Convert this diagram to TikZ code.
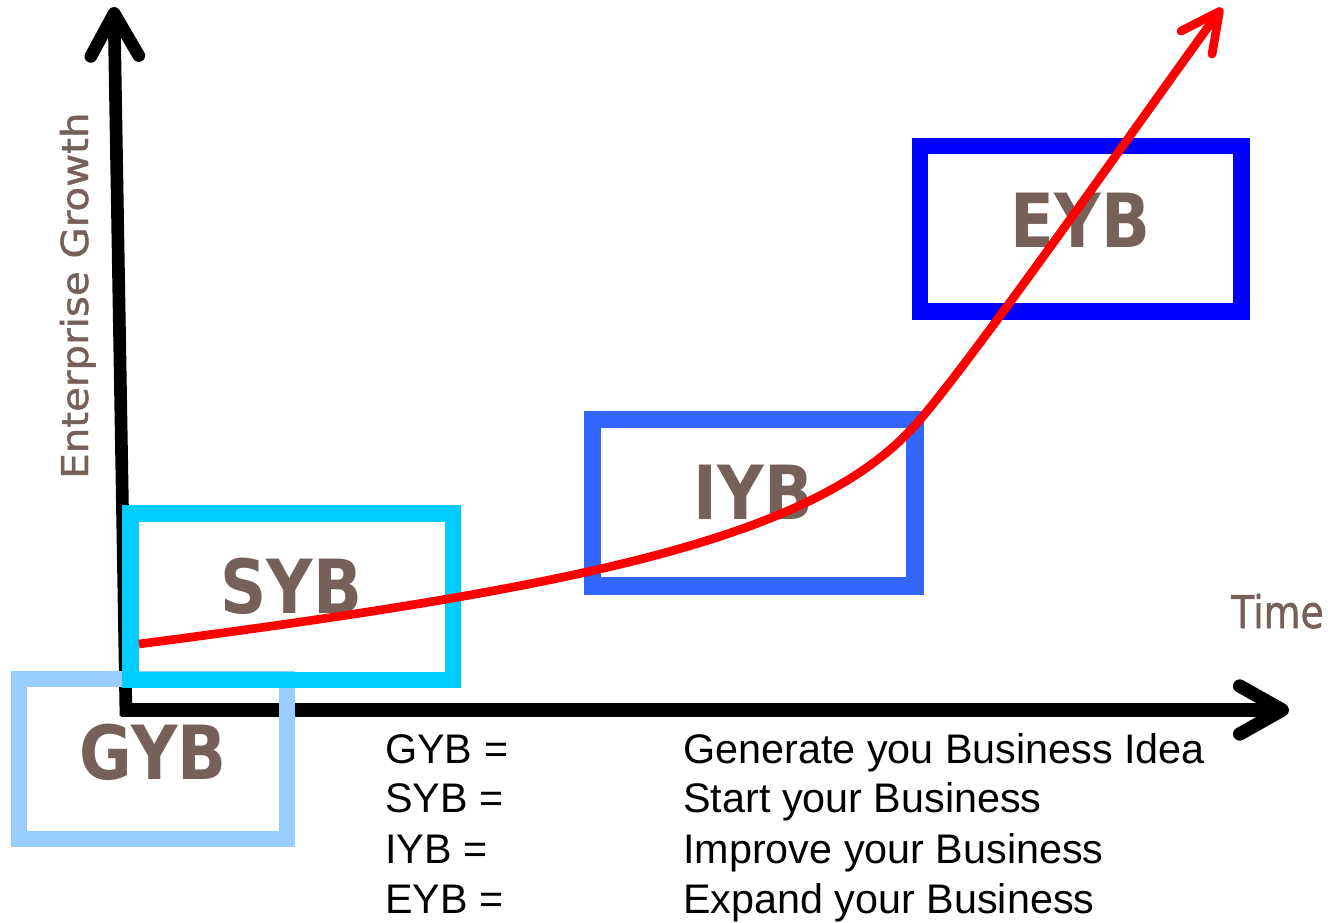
\documentclass[tikz,border=0pt]{standalone}
\usepackage{fontspec}
\usepackage{graphicx}
\setmainfont{Liberation Sans}
\newfontfamily\lblfont{DejaVu Sans}[BoldFont={DejaVu Sans Bold}]
\newfontfamily\axfont{DejaVu Sans}[FakeBold=1.2]
\usetikzlibrary{arrows.meta}
\definecolor{gybc}{HTML}{99CCFF}
\definecolor{sybc}{HTML}{00CCFF}
\definecolor{iybc}{HTML}{3366FF}
\definecolor{eybc}{HTML}{0000FF}
\definecolor{curvec}{HTML}{FF0000}
\definecolor{textbrown}{HTML}{76605A}
\tikzset{
  axisline/.style={line width=9.5pt, black, line cap=butt,
    -{Straight Barb[length=32pt,width=36pt,round]}},
  growth/.style={line width=6.5pt, curvec,
    -{Straight Barb[length=29pt,width=29pt,round]}},
  stagebox/.style={draw, line width=12.5pt, rectangle, inner sep=0pt, fill=none},
  stagelabel/.style={inner sep=0pt, text=textbrown,
    font=\lblfont\bfseries\fontsize{56pt}{60pt}\selectfont},
  axislabel/.style={inner sep=0pt, text=textbrown,
    font=\axfont\fontsize{27.75pt}{30pt}\selectfont},
  legend/.style={inner sep=0pt, anchor=base west, text=black,
    font=\fontsize{31pt}{34pt}\selectfont},
}
\begin{document}
\begin{tikzpicture}[x=0.75pt,y=-0.75pt]
\useasboundingbox (0,0) rectangle (1328,922);
\fill[white] (0,0) rectangle (1328,922);

% axes
\coordinate (origin) at (126,716);
\coordinate (ytop) at (114,7);
\coordinate (xstart) at (121,710);
\coordinate (xend) at (1289,710);
\draw[axisline] (origin) -- (ytop);
\draw[axisline, line width=10pt] (xstart) -- (xend);

% axis labels
\node[axislabel, rotate=90, anchor=base west] (ylab) at (88,479)
  {\scalebox{1.09}[1]{Enterprise Growth}};
\node[axislabel, anchor=base west, font=\axfont\fontsize{33.75pt}{36pt}\selectfont] (xlab) at (1231,628)
  {\scalebox{0.84}[1]{Time}};

% stage boxes
\node[stagebox, draw=gybc, line width=12pt, minimum width=201pt, minimum height=120pt] (gyb) at (153,759) {};
\node[stagebox, draw=sybc, minimum width=242pt, minimum height=125pt] (syb) at (291.5,596.5) {};
\node[stagebox, draw=iybc, line width=13pt, minimum width=242pt, minimum height=125pt] (iyb) at (753.5,502.5) {};
\node[stagebox, draw=eybc, minimum width=241pt, minimum height=124pt] (eyb) at (1080.5,228.5) {};

\node[stagelabel] (gybl) at ([yshift=5pt]gyb.center) {\scalebox{0.86}[1]{GYB}};
\node[stagelabel] (sybl) at ([yshift=8pt]syb.center) {\scalebox{0.86}[1]{SYB}};
\node[stagelabel] (iybl) at ([yshift=8pt]iyb.center) {\scalebox{0.86}[1]{IYB}};
\node[stagelabel] (eybl) at ([yshift=6.5pt]eyb.center) {\scalebox{0.86}[1]{EYB}};

% growth curve
\coordinate (c0) at (139,644);
\coordinate (cm) at (918,422);
\coordinate (c1) at (1222,8);
\draw[growth] (c0) .. controls (589,585.5) and (818,537) .. (cm)
  .. controls (978,353) and (1160,92) .. (c1);

% legend
\node[legend] (k1) at (385,763) {GYB =};
\node[legend] (k2) at (385,812) {SYB =};
\node[legend] (k3) at (385,863) {IYB =};
\node[legend] (k4) at (385,913) {EYB =};
\node[legend] (v1) at (683,763) {Generate you Business Idea};
\node[legend] (v2) at (683,812) {Start your Business};
\node[legend] (v3) at (683,863) {Improve your Business};
\node[legend] (v4) at (683,913) {Expand your Business};
\end{tikzpicture}
\end{document}
